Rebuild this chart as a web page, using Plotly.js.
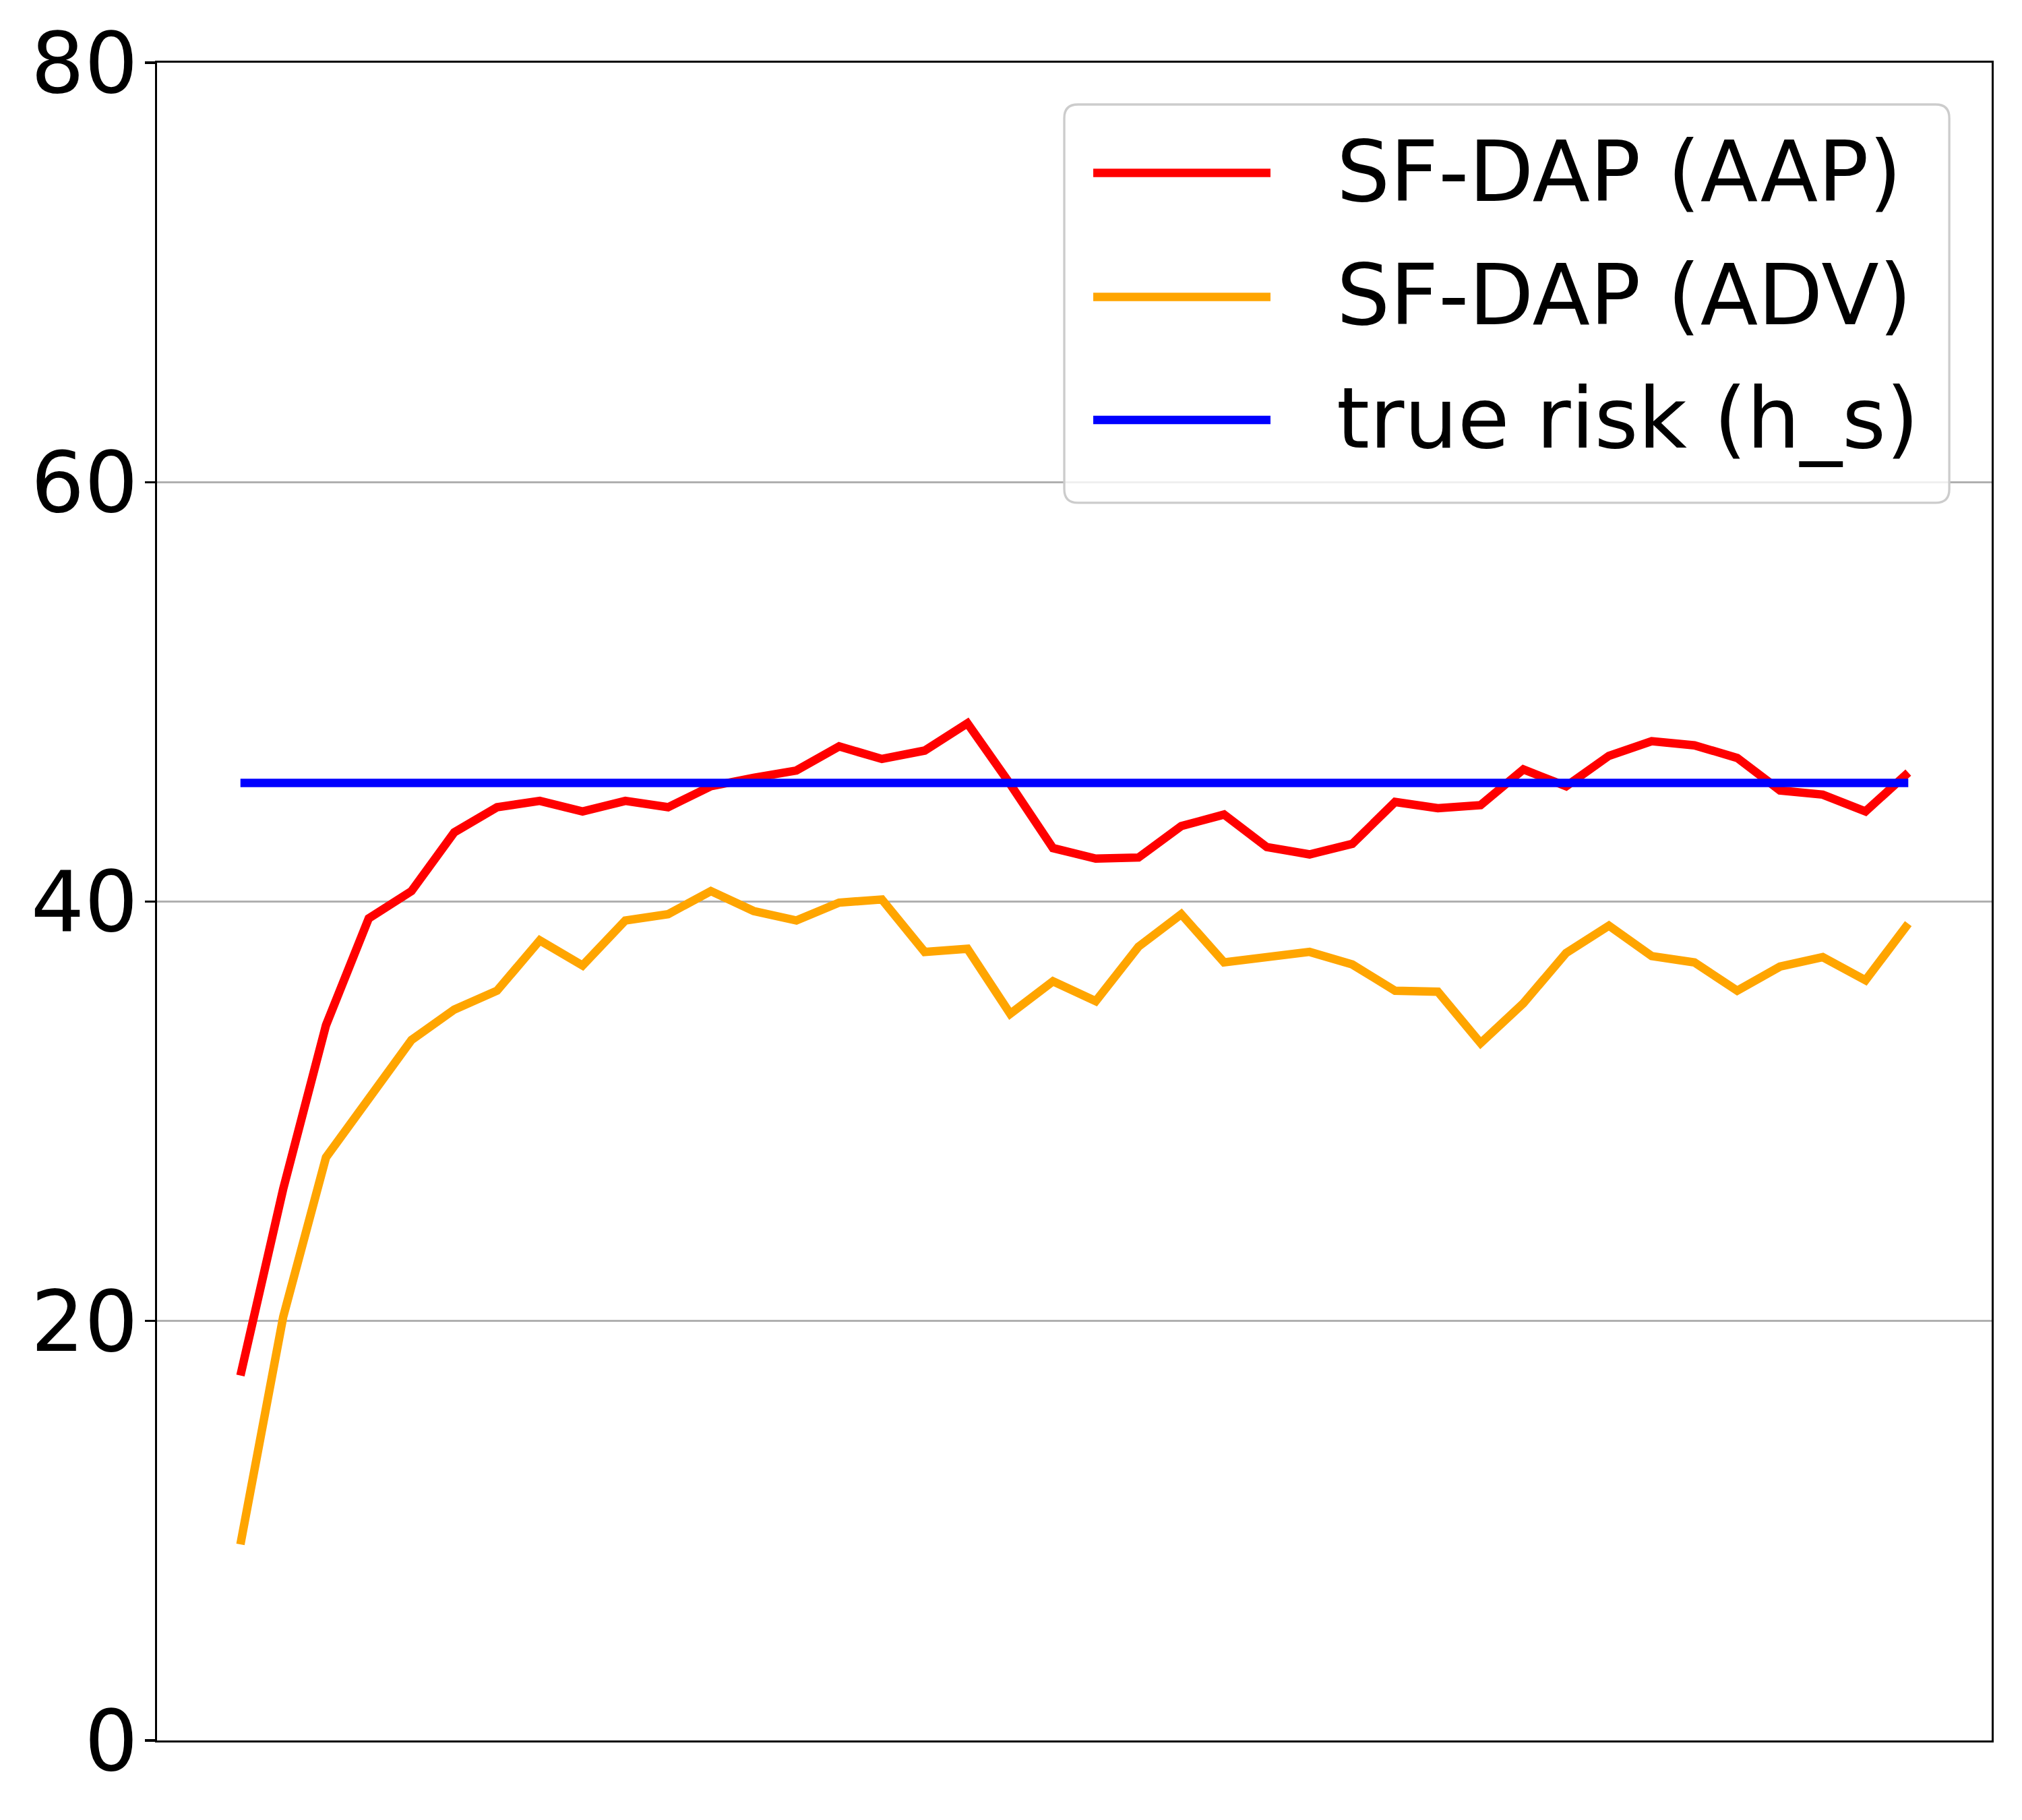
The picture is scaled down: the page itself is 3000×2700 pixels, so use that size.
<!DOCTYPE html>
<html>
<head>
<meta charset="utf-8">
<script src="https://cdn.plot.ly/plotly-3.0.1.min.js"></script>
<style>
  body { margin: 0; background: #fff; }
  #plot { width: 3000px; height: 2700px; }
</style>
</head>
<body>
<div id="plot"></div>
<script>
// epochs (x axis has no tick labels in the original)
const epochs = [1, 2, 3, 4, 5, 6, 7, 8, 9, 10, 11, 12, 13, 14, 15, 16, 17, 18, 19, 20,
  21, 22, 23, 24, 25, 26, 27, 28, 29, 30, 31, 32, 33, 34, 35, 36, 37, 38, 39, 40]

const aapValues = [17.4, 26.3, 34.1, 39.2, 40.5, 43.3, 44.5, 44.8, 44.3, 44.8,
  44.5, 45.5, 45.9, 46.25, 47.4, 46.8, 47.2, 48.5, 45.6, 42.55,
  42.05, 42.1, 43.6, 44.15, 42.6, 42.25, 42.75, 44.75, 44.45, 44.6,
  46.3, 45.5, 46.95, 47.65, 47.45, 46.85, 45.3, 45.1, 44.3, 46.15]

const advValues = [9.35, 20.2, 27.8, 30.6, 33.4, 34.85, 35.75, 38.15, 36.95, 39.1,
  39.4, 40.5, 39.55, 39.1, 39.95, 40.1, 37.6, 37.75, 34.65, 36.2,
  35.25, 37.85, 39.4, 37.1, 37.35, 37.6, 37.0, 35.75, 35.7, 33.25,
  35.15, 37.55, 38.85, 37.4, 37.1, 35.75, 36.9, 37.35, 36.25, 38.95]

const trueRisk = 45.66

const seriesNames = ['SF-DAP (AAP)', 'SF-DAP (ADV)', 'true risk (h_s)']
const seriesColors = ['#ff0000', '#ffa500', '#0000ff']

const yTicks = [0, 20, 40, 60, 80]

const font = 'DejaVu Sans, sans-serif'
const lw = 12.5

function draw() {
  const riskValues = epochs.map(() => trueRisk)
  const ys = [aapValues, advValues, riskValues]

  const data = ys.map((y, i) => ({
    x: epochs,
    y: y,
    type: 'scatter',
    mode: 'lines',
    name: seriesNames[i],
    line: { color: seriesColors[i], width: lw },
    showlegend: false
  }))

  // hand-made legend box, matplotlib style
  const x0 = 0.4945, x1 = 0.9769, y0 = 0.7377, y1 = 0.9751
  const rx = 0.0074, ry = 0.0081
  const boxPath = `M${x0 + rx},${y1} L${x1 - rx},${y1} Q${x1},${y1} ${x1},${y1 - ry} ` +
    `L${x1},${y0 + ry} Q${x1},${y0} ${x1 - rx},${y0} L${x0 + rx},${y0} ` +
    `Q${x0},${y0} ${x0},${y0 + ry} L${x0},${y1 - ry} Q${x0},${y1} ${x0 + rx},${y1} Z`

  const rowY = [0.9343, 0.8604, 0.7871]
  const shapes = [{
    type: 'path', xref: 'paper', yref: 'paper', path: boxPath,
    fillcolor: 'rgba(255,255,255,0.8)', line: { color: '#cccccc', width: 3.3 },
    layer: 'above'
  }]
  const annotations = []
  seriesNames.forEach((name, i) => {
    shapes.push({
      type: 'line', xref: 'paper', yref: 'paper',
      x0: 0.5103, x1: 0.6069, y0: rowY[i], y1: rowY[i],
      line: { color: seriesColors[i], width: lw }, layer: 'above'
    })
    annotations.push({
      xref: 'paper', yref: 'paper', x: 0.6420, y: rowY[i] + 0.001,
      xanchor: 'left', yanchor: 'middle', showarrow: false,
      text: name, font: { family: font, size: 125, color: '#000' }
    })
  })

  const layout = {
    width: 3000,
    height: 2700,
    margin: { l: 233, r: 45, t: 93, b: 118, pad: 0 },
    paper_bgcolor: '#fff',
    plot_bgcolor: '#fff',
    font: { family: font, color: '#000' },
    xaxis: {
      range: [-0.95, 41.95],
      showgrid: false, zeroline: false,
      showline: true, mirror: true, linecolor: '#000', linewidth: 3.3,
      ticks: '', showticklabels: false
    },
    yaxis: {
      range: [0, 80],
      tickvals: yTicks,
      ticktext: yTicks.map(String),
      showgrid: true, gridcolor: '#b0b0b0', gridwidth: 3.3,
      zeroline: false,
      showline: true, mirror: true, linecolor: '#000', linewidth: 3.3,
      ticks: 'outside', ticklen: 15, tickwidth: 3.3, tickcolor: '#000',
      ticklabelstandoff: -15,
      tickfont: { family: font, size: 125, color: '#000' }
    },
    shapes: shapes,
    annotations: annotations
  }

  Plotly.newPlot('plot', data, layout, { staticPlot: true })
}

draw()
</script>
</body>
</html>
